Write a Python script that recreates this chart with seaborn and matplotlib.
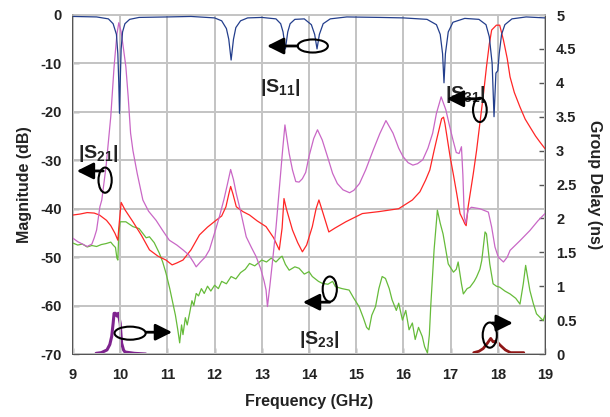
import numpy as np
import pandas as pd
import seaborn as sns
import matplotlib
matplotlib.use("Agg")
import matplotlib.pyplot as plt
import matplotlib.transforms as mtransforms
from matplotlib.lines import Line2D
from matplotlib.patches import Ellipse

# ---------------- data ----------------
s11_f = [9.0, 9.5, 9.75, 9.85, 9.92, 9.95, 9.97, 9.985, 10.0, 10.02, 10.05, 10.1, 10.2, 10.4,
         11.0, 11.5, 12.0, 12.15, 12.25, 12.3, 12.35, 12.4, 12.45, 12.55, 12.7, 13.0, 13.3,
         13.4, 13.45, 13.5, 13.55, 13.6, 13.7, 13.9, 14.05, 14.12, 14.17, 14.22, 14.3, 14.45,
         14.8, 15.5, 16.0, 16.5, 16.7, 16.78, 16.83, 16.86, 16.89, 16.95, 17.05, 17.3, 17.6,
         17.75, 17.82, 17.88, 17.92, 17.96, 18.0, 18.03, 18.08, 18.15, 18.3, 18.6, 19.0]
s11_db = [-0.3, -0.4, -0.8, -1.8, -4, -8, -14, -20.3, -14, -7, -3.5, -1.8, -0.9, -0.5,
          -0.4, -0.3, -0.6, -1.2, -2.8, -5, -9.3, -5, -2.6, -1.2, -0.6, -0.5, -0.8,
          -1.8, -3.5, -7, -3.5, -1.8, -0.9, -0.8, -2, -4, -7, -4, -1.8, -0.8,
          -0.4, -0.5, -0.6, -0.9, -2, -4, -8, -14, -8, -3.5, -1.5, -0.7, -0.9,
          -2, -4.5, -10, -21, -12, -11.5, -8, -4, -2, -0.8, -0.4, -0.6]

s21_f = [9.0, 9.1, 9.2, 9.3, 9.4, 9.45, 9.5, 9.57, 9.61, 9.7, 9.8, 9.87, 9.93, 9.97, 10.02,
         10.07, 10.12, 10.17, 10.22, 10.27, 10.36, 10.48, 10.6, 10.76, 10.9, 11.04, 11.2,
         11.33, 11.45, 11.55, 11.61, 11.7, 11.8, 11.89, 12.0, 12.1, 12.2, 12.27, 12.34, 12.4,
         12.46, 12.55, 12.67, 12.78, 12.88, 12.98, 13.05, 13.09, 13.12, 13.17, 13.23, 13.3,
         13.37, 13.44, 13.49, 13.54, 13.58, 13.65, 13.72, 13.79, 13.86, 13.93, 14.0, 14.1,
         14.18, 14.28, 14.4, 14.5, 14.6, 14.72, 14.86, 14.95, 15.07, 15.2, 15.36, 15.5, 15.63,
         15.78, 15.9, 15.99, 16.1, 16.2, 16.3, 16.41, 16.52, 16.62, 16.7, 16.8, 16.9, 16.98,
         17.05, 17.12, 17.18, 17.23, 17.26, 17.29, 17.32, 17.37, 17.44, 17.62, 17.8, 17.87,
         17.94, 18.01, 18.12, 18.2, 18.26, 18.47, 18.68, 18.85, 19.0]
s21_db = [-46.1, -46.8, -47.3, -47.8, -47.3, -46, -44.4, -39.6, -38.2, -31.3, -21, -10.7, -4,
          -1.6, -3.5, -7, -10.7, -17, -24.4, -28, -32.7, -38.2, -40.5, -42.4, -44.5, -46.5,
          -47.5, -48.5, -49.5, -51, -52, -51, -50, -48.5, -45, -41.7, -38, -35, -31.9, -34,
          -36.9, -40.5, -45.8, -48, -49.9, -52.5, -55, -56.8, -60.2, -56, -50.6, -44, -36,
          -28, -22.7, -26, -28.6, -32, -34.4, -34.5, -33.8, -32.5, -29.2, -25.5, -23.7, -25.8,
          -29.5, -32.7, -34.8, -36.1, -36.7, -36.2, -34.8, -32, -27.9, -24.5, -21.8, -24.4,
          -27.5, -29.2, -30.5, -31, -30.7, -29.9, -27.5, -24.4, -20.3, -16.9, -19.6, -23,
          -25.8, -28.4, -28.6, -27.2, -33, -41.7, -43, -40.3, -39.7, -40, -40.7, -43.8,
          -47.9, -50, -51, -50, -48.6, -46.6, -44.5, -42.5, -41]

s31_f = [9.0, 9.15, 9.3, 9.45, 9.56, 9.71, 9.8, 9.89, 9.95, 9.97, 10.02, 10.1, 10.27, 10.45,
         10.62, 10.8, 10.97, 11.1, 11.2, 11.33, 11.5, 11.68, 11.85, 12.03, 12.15, 12.24, 12.3,
         12.34, 12.39, 12.46, 12.6, 12.74, 12.9, 13.09, 13.25, 13.37, 13.43, 13.47, 13.52,
         13.65, 13.76, 13.86, 13.95, 14.07, 14.15, 14.21, 14.3, 14.42, 14.55, 14.78, 15.13,
         15.48, 15.9, 16.19, 16.35, 16.47, 16.56, 16.65, 16.7, 16.81, 16.85, 16.88, 16.99,
         17.06, 17.13, 17.2, 17.27, 17.3, 17.33, 17.37, 17.48, 17.55, 17.62, 17.7, 17.76,
         17.82, 17.87, 17.97, 18.04, 18.12, 18.2, 18.26, 18.35, 18.47, 18.58, 18.68, 18.8,
         18.89, 19.0]
s31_db = [-41.3, -41.1, -40.8, -40.9, -41.3, -42.4, -43.5, -45.1, -46.5, -44, -38.7, -40.2,
          -42.7, -45.5, -48.5, -49.8, -50.6, -51.6, -51.2, -50.6, -48.5, -45.4, -43.8, -42.4,
          -41.5, -39.6, -37, -35.4, -37, -39.6, -40.6, -41.3, -42.5, -43.7, -46, -48.5, -44,
          -37.9, -40, -44.4, -47, -48.9, -47.5, -43.7, -40, -38.2, -41, -44.8, -44, -42.7,
          -41, -40.6, -40, -38.2, -36.5, -34.1, -32, -28, -25.9, -21.4, -21.1, -22.4, -29.3,
          -33, -36.9, -41, -42.4, -43.1, -43.5, -39.7, -32.8, -28, -22.4, -16, -10.7, -6,
          -3.1, -2.1, -2.1, -5.2, -9, -12.8, -16, -19, -21.5, -23.1, -25, -26.2, -27.6]

s23_f = [9.0, 9.1, 9.2, 9.3, 9.4, 9.5, 9.6, 9.7, 9.8, 9.85, 9.9, 9.93, 9.95, 9.97, 10.0,
         10.12, 10.27, 10.4, 10.55, 10.62, 10.72, 10.83, 10.9, 10.97, 11.05, 11.1, 11.17,
         11.22, 11.26, 11.3, 11.33, 11.38, 11.42, 11.47, 11.52, 11.56, 11.61, 11.66, 11.72,
         11.78, 11.85, 11.92, 12.0, 12.08, 12.15, 12.25, 12.35, 12.45, 12.55, 12.65, 12.74,
         12.85, 13.0, 13.1, 13.2, 13.3, 13.4, 13.43, 13.5, 13.58, 13.7, 13.79, 13.9, 14.0,
         14.07, 14.2, 14.28, 14.4, 14.5, 14.56, 14.7, 14.85, 14.95, 15.06, 15.15, 15.22,
         15.27, 15.33, 15.41, 15.48, 15.55, 15.62, 15.7, 15.76, 15.85, 15.9, 15.98, 16.05,
         16.12, 16.19, 16.25, 16.32, 16.4, 16.45, 16.51, 16.55, 16.58, 16.65, 16.72, 16.78,
         16.84, 16.95, 17.06, 17.12, 17.16, 17.23, 17.27, 17.35, 17.41, 17.5, 17.55, 17.62,
         17.66, 17.73, 17.76, 17.83, 17.9, 17.97, 18.04, 18.15, 18.26, 18.38, 18.47, 18.54,
         18.59, 18.68, 18.75, 18.82, 18.9, 18.96, 19.0]
s23_db = [-47.1, -47.5, -47.3, -47.9, -47.6, -47.8, -47.4, -47.2, -46.9, -47.5, -48, -50.2,
          -50.6, -45, -42.7, -42.7, -43.7, -44.1, -46, -45.8, -47, -49.2, -51, -53.3, -56.5,
          -58.8, -62, -65, -67.7, -64, -66, -62.5, -64, -61.6, -59, -60, -57.5, -58, -56.5,
          -57.5, -56, -57, -55.8, -56.5, -55, -55.5, -54, -54.5, -53.2, -52.5, -51.3, -51.8,
          -50.6, -51, -50.2, -51, -50, -49.8, -51.5, -52.7, -52, -52.3, -53.5, -53, -54, -55,
          -55.4, -55.6, -55, -56.1, -56.5, -56.8, -58.5, -60.2, -62.5, -64.5, -65, -62,
          -60.2, -56.5, -54, -54.4, -56.5, -58.8, -61, -59.5, -63, -61, -65, -63.6, -67,
          -64.5, -66.4, -68.5, -69.8, -66, -60, -48.5, -40.3, -43, -45.2, -51.4, -53.1,
          -52.5, -51, -55.5, -57.6, -56.5, -56.2, -55, -54.1, -52.5, -50.7, -44.8, -45.2,
          -51.4, -55.5, -56, -56.2, -57, -57.6, -58.5, -59.7, -55.5, -51.7, -56.9, -59.5,
          -61.7, -62.5, -63.1, -62]

gd21_f = [9.49, 9.6, 9.72, 9.78, 9.82, 9.85, 9.87, 9.9, 9.93, 9.96, 10.0, 10.03, 10.07, 10.1,
          10.3, 10.54]
gd21_ns = [0.01, 0.02, 0.06, 0.14, 0.26, 0.45, 0.6, 0.6, 0.56, 0.6, 0.45, 0.16, 0.06, 0.03,
           0.01, 0.0]

gd31_f = [17.49, 17.6, 17.69, 17.78, 17.85, 17.9, 17.97, 18.05, 18.16, 18.27, 18.55]
gd31_ns = [0.02, 0.04, 0.08, 0.16, 0.23, 0.18, 0.19, 0.13, 0.06, 0.02, 0.02]

x_ticks = [9, 10, 11, 12, 13, 14, 15, 16, 17, 18, 19]
y_ticks = [0, -10, -20, -30, -40, -50, -60, -70]
y2_ticks = [0, 0.5, 1, 1.5, 2, 2.5, 3, 3.5, 4, 4.5, 5]
y2_labels = ["0", "0.5", "1", "1.5", "2", "2.5", "3", "3.5", "4", "4.5", "5"]

# ---------------- style ----------------
sns.set_style("white")
plt.rcParams["font.family"] = ["Liberation Sans", "DejaVu Sans"]
plt.rcParams["font.weight"] = "bold"
plt.rcParams["axes.unicode_minus"] = False
plt.rcParams["mathtext.fontset"] = "custom"
plt.rcParams["mathtext.rm"] = "Liberation Sans:bold"
plt.rcParams["mathtext.bf"] = "Liberation Sans:bold"
plt.rcParams["mathtext.it"] = "Liberation Sans:bold"

fig = plt.figure(figsize=(6.1, 4.17), dpi=100)
ax = fig.add_axes([73 / 610, 1 - 354 / 417, (545 - 73) / 610, (354 - 15) / 417])
ax2 = ax.twinx()
ax2.set_zorder(1)
ax.set_zorder(2)
ax.patch.set_visible(False)
ax2.patch.set_visible(True)
ax2.patch.set_facecolor("white")

grid_c = "#c4c4c4"
# grid on the (lower) group-delay axes, positioned by the magnitude ticks
for xv in x_ticks:
    ax2.axvline(xv, color=grid_c, lw=1.4, zorder=0.6)
hl_tr = mtransforms.blended_transform_factory(ax2.transAxes, ax.transData)
for yv in y_ticks:
    ax2.add_line(Line2D([0, 1], [yv, yv], transform=hl_tr, color=grid_c, lw=1.4,
                        zorder=0.6))
# and on the magnitude axes as well
for xv in x_ticks:
    ax.axvline(xv, color=grid_c, lw=1.4, zorder=2.6)
for yv in y_ticks:
    ax.axhline(yv, color=grid_c, lw=1.4, zorder=2.6)

c_s11 = "#233E8C"
c_s21 = "#C967C6"
c_s31 = "#FF2626"
c_s23 = "#66BB3A"
c_gd21 = "#7E238E"
c_gd31 = "#8E1616"

def draw(axis, f, v, color, lw):
    df = pd.DataFrame({"f": f, "v": v})
    sns.lineplot(data=df, x="f", y="v", ax=axis, color=color, lw=lw, sort=False,
                 estimator=None, legend=False, zorder=3)

draw(ax, s23_f, s23_db, c_s23, 0.9)
draw(ax, s31_f, s31_db, c_s31, 0.9)
draw(ax, s21_f, s21_db, c_s21, 0.9)
draw(ax, s11_f, s11_db, c_s11, 0.9)
draw(ax2, gd21_f, gd21_ns, c_gd21, 2.2)
draw(ax2, gd31_f, gd31_ns, c_gd31, 2.0)

ax.set_xlim(9, 19)
ax.set_ylim(-70, 0)
ax2.set_ylim(0, 5)
ax.set_xticks(x_ticks)
ax.set_yticks(y_ticks)
ax2.set_yticks(y2_ticks)
ax2.set_yticklabels(y2_labels)

tick_kw = dict(direction="in", length=4, width=1.0, color="#555555",
               labelsize=10.5, labelcolor="#222222")
ax.tick_params(axis="x", pad=10, bottom=True, **tick_kw)
ax.tick_params(axis="y", pad=8, left=True, **tick_kw)
ax2.tick_params(axis="y", pad=8, right=True, **tick_kw)
for lab in ax.get_xticklabels() + ax.get_yticklabels() + ax2.get_yticklabels():
    lab.set_fontweight("bold")

for a in (ax, ax2):
    for s in ("left", "right", "bottom"):
        a.spines[s].set_color("#555555")
        a.spines[s].set_linewidth(1.4)
    a.spines["top"].set_color("#c4c4c4")
    a.spines["top"].set_linewidth(1.2)

ax.set_xlabel("Frequency (GHz)", fontsize=11.5, fontweight="bold", color="#222222", labelpad=9)
ax.set_ylabel("Magnitude (dB)", fontsize=11.5, fontweight="bold", color="#222222", labelpad=6)
ax2.set_ylabel("Group Delay (ns)", fontsize=11.5, fontweight="bold", color="#222222",
               rotation=270, labelpad=18)

# ---------------- annotations ----------------
txt_kw = dict(fontsize=14, ha="center", va="center", color="#222222", zorder=6)
ax.text(13.39, -14.9, r"$\mathbf{|S_{11}|}$", **txt_kw)
ax.text(9.53, -28.5, r"$\mathbf{|S_{21}|}$", **txt_kw)
ax.text(17.3, -16.5, r"$\mathbf{|S_{31}|}$", **txt_kw)
ax.text(14.21, -67.1, r"$\mathbf{|S_{23}|}$", **txt_kw)

ell_kw = dict(fill=False, edgecolor="black", lw=1.5, zorder=6)
ax.add_patch(Ellipse((14.08, -6.4), 0.64, 2.7, **ell_kw))
ax.add_patch(Ellipse((9.68, -34.1), 0.28, 5.2, **ell_kw))
ax.add_patch(Ellipse((17.62, -19.6), 0.29, 5.0, **ell_kw))
ax.add_patch(Ellipse((14.44, -56.6), 0.30, 5.2, **ell_kw))
ax.add_patch(Ellipse((10.21, -65.7), 0.66, 2.7, **ell_kw))
ax.add_patch(Ellipse((17.83, -66.1), 0.30, 5.2, **ell_kw))

arr_kw = dict(arrowstyle="-|>,head_length=1.0,head_width=0.5", lw=2.0, color="black",
              shrinkA=0, shrinkB=0, mutation_scale=10)
def arrow(x0, x1, y):
    ax.annotate("", xy=(x1, y), xytext=(x0, y), arrowprops=arr_kw, zorder=7)

arrow(13.76, 13.11, -6.4)
arrow(9.64, 9.08, -32.2)
arrow(17.62, 16.92, -17.3)
arrow(14.44, 13.87, -59.3)
arrow(10.55, 11.1, -65.5)
arrow(17.88, 18.32, -63.6)

fig.savefig("out.png", dpi=100)
